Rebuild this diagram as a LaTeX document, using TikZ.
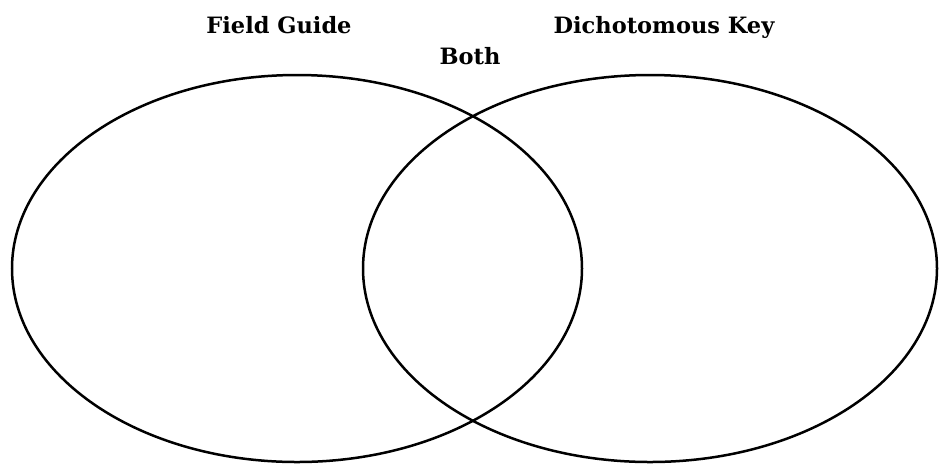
\documentclass[tikz,border=0pt]{standalone}
\usepackage{fontspec}
\setmainfont{DejaVu Serif}
\begin{document}
\begin{tikzpicture}[x=1pt,y=-1pt,
  ring/.style={draw=black,line width=2.5pt},
  title/.style={font=\bfseries\fontsize{22.5}{26}\selectfont,inner sep=0pt,anchor=base}]
\useasboundingbox (0,0) rectangle (947,475);
\draw[ring] (297,268.5) ellipse [x radius=285,y radius=193.5];
\draw[ring] (650,268.5) ellipse [x radius=287,y radius=193.5];
\node[title] (fg) at (279,33) {Field Guide};
\node[title] (dk) at (664,33) {Dichotomous Key};
\node[title] (both) at (470,64) {Both};
\end{tikzpicture}
\end{document}
